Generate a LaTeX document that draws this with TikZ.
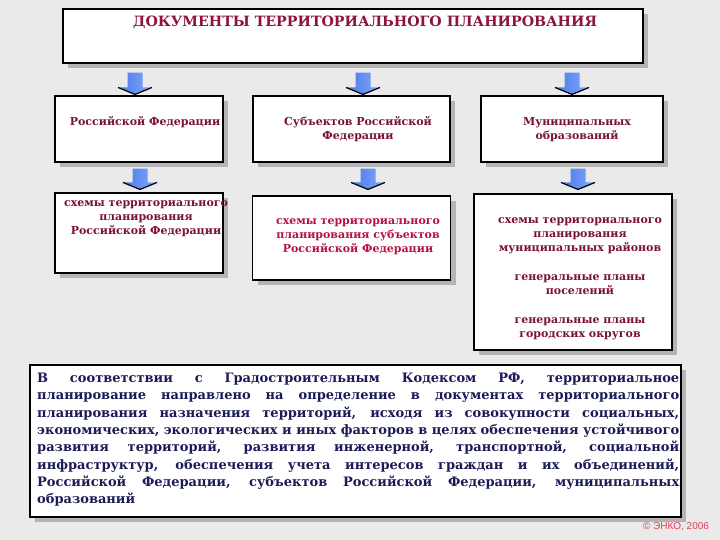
\documentclass[tikz,border=0pt]{standalone}
\usepackage{fontspec}
\setmainfont{DejaVu Serif}
\newfontfamily\copyfont{Liberation Sans}
\usetikzlibrary{shadows,calc}
\definecolor{bggray}{HTML}{EAEAEA}
\definecolor{shadowgray}{HTML}{B4B4B4}
\definecolor{darkred}{HTML}{7A1232}
\definecolor{crimson}{HTML}{B5123F}
\definecolor{titlered}{HTML}{8E1438}
\definecolor{navy}{HTML}{1B1B58}
\definecolor{arrowdark}{HTML}{4A78E6}
\definecolor{arrowlight}{HTML}{82A8FF}
\definecolor{copyred}{HTML}{E0405A}
\tikzset{
  box/.style={draw=black, line width=1.1pt, fill=white, inner sep=0pt,
    drop shadow={shadow xshift=5pt, shadow yshift=-5pt, fill=shadowgray, opacity=1}},
  boxtext/.style={font=\bfseries\fontsize{11}{14}\selectfont, text=darkred, align=center, inner sep=0pt},
}
\newcommand{\barrow}[2]{%
  \path[left color=arrowdark, right color=arrowlight] let \p1=#1, \p2=#2 in
    (\x1-7.5pt,\y1) -- (\x1+7.5pt,\y1) -- (\x1+7.5pt,\y2+7pt) -- (\x1+17pt,\y2+7pt)
    -- (\x1,\y2) -- (\x1-17pt,\y2+7pt) -- (\x1-7.5pt,\y2+7pt) -- cycle;
  \draw[line width=1.2pt, black] let \p1=#1, \p2=#2 in
    (\x1-17pt,\y2+7pt) -- (\x1,\y2) -- (\x1+17pt,\y2+7pt);
}
\begin{document}
\begin{tikzpicture}[x=1pt,y=-1pt]
\useasboundingbox (0,0) rectangle (720,540);
\fill[bggray] (0,0) rectangle (720,540);

% title
\node[box, minimum width=580pt, minimum height=54pt] (title) at (353,36) {};
\node[font=\bfseries\fontsize{14.2}{17}\selectfont, text=titlered, inner sep=0pt] (titletext) at (365,22) {ДОКУМЕНТЫ ТЕРРИТОРИАЛЬНОГО ПЛАНИРОВАНИЯ};

% first row
\node[box, minimum width=168pt, minimum height=66pt] (b1) at (139,129) {};
\node[box, minimum width=197pt, minimum height=66pt] (b2) at (351.5,129) {};
\node[box, minimum width=182pt, minimum height=66pt] (b3) at (572,129) {};
\node[boxtext] (b1t) at (145,122) {Российской Федерации};
\node[boxtext] (b2t) at (358,129) {Субъектов Российской\\Федерации};
\node[boxtext] (b3t) at (577,129.5) {Муниципальных\\образований};

% second row
\node[box, minimum width=168pt, minimum height=80pt] (c1) at (139,233) {};
\node[box, minimum width=198pt, minimum height=84pt] (c2) at (351.5,238) {};
\node[box, minimum width=198pt, minimum height=156pt] (c3) at (573,272) {};
\node[boxtext] (c1t) at (146,219) {схемы территориального\\планирования\\Российской Федерации};
\node[boxtext, text=crimson] (c2t) at (358,237) {схемы территориального\\планирования субъектов\\Российской Федерации};
\node[boxtext] (c3a) at (580,235.5) {схемы территориального\\планирования\\муниципальных районов};
\node[boxtext] (c3b) at (580,284.5) {генеральные планы\\поселений};
\node[boxtext] (c3c) at (580,328.5) {генеральные планы\\городских округов};

% arrows
\barrow{($(title.south -| b1.north)+(-4,9)$)}{($(b1.north)+(-4,-1)$)}
\barrow{($(title.south -| b2.north)+(11.5,9)$)}{($(b2.north)+(11.5,-1)$)}
\barrow{($(title.south -| b3.north)+(0,9)$)}{($(b3.north)+(0,-1)$)}
\barrow{($(b1.south)+(1,6)$)}{($(c1.north -| b1.north)+(1,-3)$)}
\barrow{($(b2.south)+(16.5,6)$)}{($(c2.north -| b2.north)+(16.5,-6)$)}
\barrow{($(b3.south)+(6,6)$)}{($(c3.north -| b3.north)+(6,-4)$)}

% paragraph
\node[box, minimum width=651pt, minimum height=152pt] (pbox) at (355.5,441) {};
\node[anchor=north west, text width=642pt, align=justify, inner sep=0pt,
  font=\bfseries\fontsize{13}{17.3}\selectfont, text=navy] (para) at (37,373)
{\hyphenpenalty=10000 \hbadness=10000 В соответствии с Градостроительным Кодексом РФ, территориальное\linebreak
планирование направлено на определение в документах территориального\linebreak
планирования назначения территорий, исходя из совокупности социальных,\linebreak
экономических, экологических и иных факторов в целях обеспечения устойчивого\linebreak
развития территорий, развития инженерной, транспортной, социальной\linebreak
инфраструктур, обеспечения учета интересов граждан и их объединений,\linebreak
Российской Федерации, субъектов Российской Федерации, муниципальных\linebreak
образований};

\node[font=\copyfont\fontsize{10}{12}\selectfont, text=copyred, inner sep=0pt] (copy) at (676,527) {© ЭНКО, 2006};
\end{tikzpicture}
\end{document}
